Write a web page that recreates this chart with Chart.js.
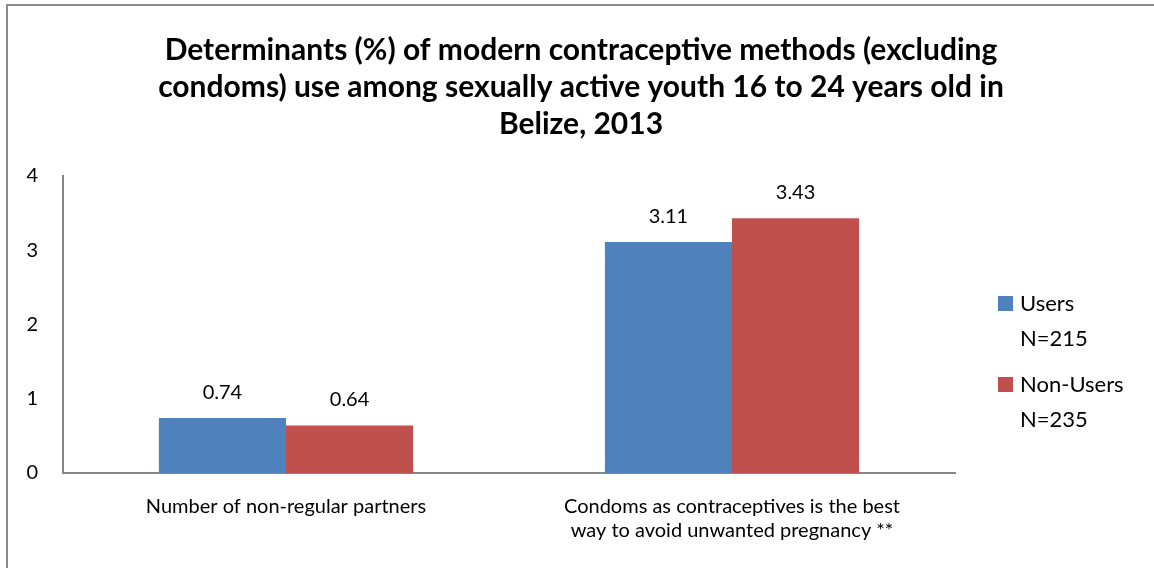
<!DOCTYPE html>
<html>
<head>
<meta charset="utf-8">
<title>Determinants of modern contraceptive use, Belize 2013</title>
<script src="https://cdn.jsdelivr.net/npm/chart.js@4.4.1/dist/chart.umd.min.js"></script>
<style>
  body { margin: 0; background: #fff; }
  #wrap { width: 1154px; height: 568px; }
</style>
</head>
<body>
<div id="wrap"><canvas id="myGraph" width="1154" height="568"></canvas></div>
<script>
// chart data
var categories = [
    'Number of non-regular partners',
    ['Condoms as contraceptives is the best', 'way to avoid unwanted pregnancy **']
];
var users = [0.74, 3.11];
var nonUsers = [0.64, 3.43];
var seriesNames = ['Users', 'Non-Users'];
var seriesCounts = ['N=215', 'N=235'];
var seriesColors = ['#4F81BD', '#C0504D'];
var yTicks = [0, 1, 2, 3, 4];
var titleLines = [
    'Determinants (%) of modern contraceptive methods (excluding',
    'condoms) use among sexually active youth 16 to 24 years old in',
    'Belize, 2013'
];

var FONT = 'Lato, "Open Sans", sans-serif';
Chart.defaults.font.family = FONT;
Chart.defaults.color = '#000';

// outer frame + title, drawn on the canvas
var frameTitle = {
    id: 'frameTitle',
    beforeDraw: function (chart) {
        var ctx = chart.ctx;
        ctx.save();
        ctx.fillStyle = '#fff';
        ctx.fillRect(0, 0, chart.width, chart.height);
        ctx.strokeStyle = '#8c8c8c';
        ctx.lineWidth = 2;
        ctx.strokeRect(7, 5, chart.width + 20, chart.height + 20);
        ctx.restore();
    },
    afterDraw: function (chart) {
        var ctx = chart.ctx;
        ctx.save();
        ctx.fillStyle = '#000';
        ctx.font = 'bold 30px ' + FONT;
        ctx.textAlign = 'center';
        ctx.textBaseline = 'middle';
        for (var i = 0; i < titleLines.length; i++) {
            ctx.fillText(titleLines[i], 581, 50 + i * 37);
        }
        ctx.restore();
    }
};

// values above each bar
var valueLabels = {
    id: 'valueLabels',
    afterDatasetsDraw: function (chart) {
        var ctx = chart.ctx;
        ctx.save();
        ctx.fillStyle = '#000';
        ctx.font = '20px ' + FONT;
        ctx.textAlign = 'center';
        ctx.textBaseline = 'middle';
        chart.data.datasets.forEach(function (ds, i) {
            var meta = chart.getDatasetMeta(i);
            meta.data.forEach(function (bar, j) {
                ctx.fillText(ds.data[j].toFixed(2), bar.x, bar.y - 26);
            });
        });
        ctx.restore();
    }
};

// legend on the right with the sample size under each name
var sideLegend = {
    id: 'sideLegend',
    afterDraw: function (chart) {
        var ctx = chart.ctx;
        var x = chart.chartArea.right + 43;
        ctx.save();
        ctx.font = '22px ' + FONT;
        ctx.textBaseline = 'middle';
        ctx.textAlign = 'left';
        chart.data.datasets.forEach(function (ds, i) {
            var y = 304 + i * 81;
            ctx.fillStyle = ds.backgroundColor;
            ctx.fillRect(x, y - 8, 15, 15);
            ctx.fillStyle = '#000';
            ctx.fillText(ds.label, x + 22, y);
            ctx.fillText(seriesCounts[i], x + 22, y + 35);
        });
        ctx.restore();
    }
};

var ctx = document.getElementById('myGraph');
var myChart = new Chart(ctx, {
    type: 'bar',
    data: {
        labels: categories,
        datasets: [
            {
                label: seriesNames[0],
                data: users,
                backgroundColor: seriesColors[0],
                categoryPercentage: 0.57,
                barPercentage: 1.0
            },
            {
                label: seriesNames[1],
                data: nonUsers,
                backgroundColor: seriesColors[1],
                categoryPercentage: 0.57,
                barPercentage: 1.0
            }
        ]
    },
    plugins: [frameTitle, valueLabels, sideLegend],
    options: {
        responsive: false,
        animation: false,
        devicePixelRatio: 1,
        layout: {
            padding: { left: 7, right: 199, top: 176, bottom: 0 }
        },
        plugins: {
            legend: { display: false },
            title: { display: false },
            tooltip: { enabled: false }
        },
        scales: {
            x: {
                grid: { display: false, drawTicks: false },
                border: { color: '#868686', width: 2 },
                ticks: {
                    font: { size: 20 },
                    padding: 22,
                    maxRotation: 0,
                    autoSkip: false
                },
                afterFit: function (scale) { scale.height = 95; }
            },
            y: {
                min: yTicks[0],
                max: yTicks[yTicks.length - 1],
                grid: { display: false, drawTicks: false },
                border: { color: '#868686', width: 2 },
                ticks: {
                    stepSize: 1,
                    font: { size: 20 },
                    padding: 25
                },
                afterFit: function (scale) { scale.width = 56; }
            }
        }
    }
});
</script>
</body>
</html>
